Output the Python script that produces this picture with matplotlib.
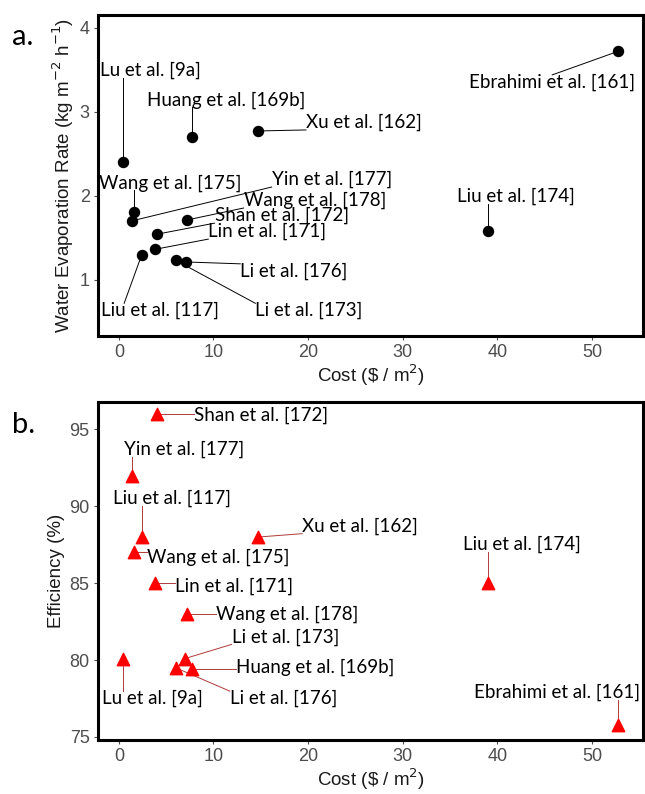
import numpy as np
import matplotlib
matplotlib.use('Agg')
import matplotlib.pyplot as plt

# ---- data: panel a (evaporation rate vs cost) ----
names_a = ['Lu et al. [9a]', 'Huang et al. [169b]', 'Xu et al. [162]', 'Ebrahimi et al. [161]',
           'Wang et al. [175]', 'Yin et al. [177]', 'Wang et al. [178]', 'Shan et al. [172]',
           'Lin et al. [171]', 'Li et al. [176]', 'Li et al. [173]', 'Liu et al. [117]',
           'Liu et al. [174]']
cost_a = [0.4, 7.7, 14.7, 52.8, 1.6, 1.4, 7.2, 4.0, 3.8, 7.1, 6.0, 2.4, 39.0]
rate_a = [2.40, 2.70, 2.77, 3.72, 1.80, 1.70, 1.71, 1.54, 1.36, 1.21, 1.23, 1.29, 1.58]
# label positions
lab_x_a = [3.3, 11.3, 25.9, 45.8, 5.4, 22.5, 20.7, 17.2, 15.7, 18.5, 20.1, 4.3, 42.0]
lab_y_a = [3.49, 3.14, 2.87, 3.35, 2.15, 2.19, 1.94, 1.76, 1.57, 1.10, 0.63, 0.63, 1.99]

# ---- data: panel b (efficiency vs cost) ----
names_b = ['Shan et al. [172]', 'Yin et al. [177]', 'Liu et al. [117]', 'Xu et al. [162]',
           'Wang et al. [175]', 'Lin et al. [171]', 'Wang et al. [178]', 'Li et al. [173]',
           'Huang et al. [169b]', 'Li et al. [176]', 'Lu et al. [9a]', 'Liu et al. [174]',
           'Ebrahimi et al. [161]']
cost_b = [4.0, 1.4, 2.4, 14.7, 1.6, 3.8, 7.2, 7.0, 7.7, 6.0, 0.4, 39.0, 52.8]
eff_b = [96.0, 92.0, 88.0, 88.0, 87.0, 85.0, 83.0, 80.1, 79.4, 79.5, 80.1, 85.0, 75.8]
lab_x_b = [15.0, 6.9, 5.6, 25.5, 10.5, 12.2, 17.8, 17.6, 20.7, 17.4, 3.5, 42.6, 46.3]
lab_y_b = [95.9, 93.7, 90.5, 88.7, 86.7, 84.8, 83.0, 81.5, 79.5, 77.5, 77.5, 87.5, 77.9]

LABEL_FONT = ['Lato', 'DejaVu Sans']
AXIS_FONT = ['Liberation Sans', 'DejaVu Sans']


def style_axes(ax):
    for s in ax.spines.values():
        s.set_linewidth(2.2)
        s.set_color('black')
    ax.tick_params(axis='both', colors='#4d4d4d', labelsize=13, length=3, width=0.8, pad=3)
    for lab in ax.get_xticklabels() + ax.get_yticklabels():
        lab.set_family(AXIS_FONT)


def add_labels(fig, ax, xs, ys, names, lx, ly, seg_color, anchors=None):
    texts = []
    for n, tx, ty in zip(names, lx, ly):
        texts.append(ax.text(tx, ty, n, ha='center', va='center', fontsize=13.5,
                             family=LABEL_FONT, color='black', zorder=4))
    fig.canvas.draw()
    inv = ax.transData.inverted()
    for i, (t, x, y) in enumerate(zip(texts, xs, ys)):
        bb = t.get_window_extent().expanded(1.0, 0.85)
        px, py = ax.transData.transform((x, y))
        if anchors and anchors.get(names[i]):
            rx, ry = anchors[names[i]]
            cx, cy = bb.x0 + rx * bb.width, bb.y0 + ry * bb.height
        else:
            cx = min(max(px, bb.x0), bb.x1)
            cy = min(max(py, bb.y0), bb.y1)
        if np.hypot(px - cx, py - cy) < 3:
            continue
        (x0, y0), (x1, y1) = inv.transform([(cx, cy), (px, py)])
        ax.plot([x0, x1], [y0, y1], color=seg_color, lw=0.7, zorder=2)


fig = plt.figure(figsize=(6.45, 7.94), dpi=100)
ax1 = fig.add_axes([0.152, 0.577, 0.845, 0.404])
ax2 = fig.add_axes([0.152, 0.068, 0.845, 0.426])

# panel a
ax1.scatter(cost_a, rate_a, s=52, color='black', zorder=3)
ax1.set_xlim(-2.2, 55.4)
ax1.set_ylim(0.33, 4.15)
ax1.set_xticks([0, 10, 20, 30, 40, 50])
ax1.set_yticks([1, 2, 3, 4])
ax1.set_xlabel('Cost (\\$ / m$^2$)', fontsize=13.5, family=AXIS_FONT, color='#1a1a1a', labelpad=1)
ax1.set_ylabel('Water Evaporation Rate (kg m$^{-2}$ h$^{-1}$)', fontsize=13.5, family=AXIS_FONT,
               color='#1a1a1a', labelpad=3)
style_axes(ax1)

# panel b
ax2.scatter(cost_b, eff_b, s=80, marker='^', color='#ff0000', zorder=3)
ax2.set_xlim(-2.2, 55.4)
ax2.set_ylim(74.8, 96.8)
ax2.set_xticks([0, 10, 20, 30, 40, 50])
ax2.set_yticks([75, 80, 85, 90, 95])
ax2.set_xlabel('Cost (\\$ / m$^2$)', fontsize=13.5, family=AXIS_FONT, color='#1a1a1a', labelpad=1)
ax2.set_ylabel('Efficiency (%)', fontsize=13.5, family=AXIS_FONT, color='#1a1a1a', labelpad=3)
style_axes(ax2)

add_labels(fig, ax1, cost_a, rate_a, names_a, lab_x_a, lab_y_a, 'black',
           anchors={'Ebrahimi et al. [161]': (0.5, 1.0),
                    'Liu et al. [117]': (0.2, 1.0)})
add_labels(fig, ax2, cost_b, eff_b, names_b, lab_x_b, lab_y_b, '#b03a3a')

fig.text(0.018, 0.953, 'a.', fontsize=21, family=LABEL_FONT, va='center')
fig.text(0.018, 0.465, 'b.', fontsize=21, family=LABEL_FONT, va='center')

fig.savefig('out.png', dpi=100)
